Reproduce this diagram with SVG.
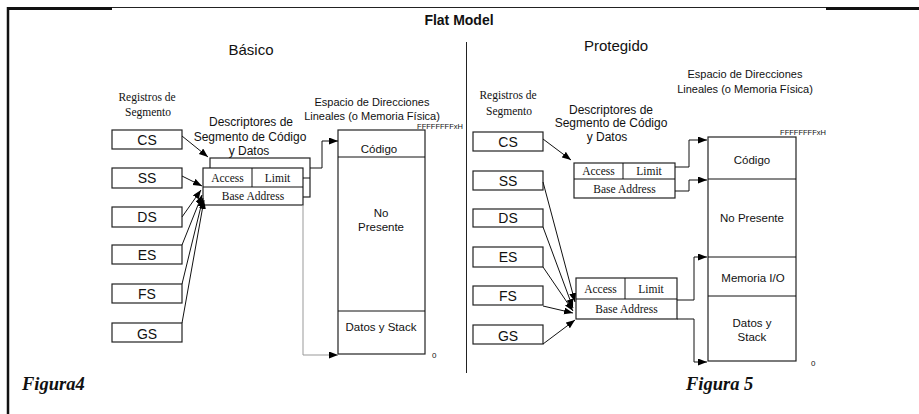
<svg xmlns="http://www.w3.org/2000/svg" width="919" height="414" viewBox="0 0 919 414">
  <style>
    .sans { font-family: "Liberation Sans", Arial, sans-serif; fill: #111; }
    .serif { font-family: "Liberation Serif", "Times New Roman", serif; fill: #111; }
    .box { fill: #fff; stroke: #222; stroke-width: 1.2; }
    .line { fill: none; stroke: #111; stroke-width: 1; }
    .gray { fill: none; stroke: #999; stroke-width: 1; }
    .reg { font-size: 14px; text-anchor: middle; }
    .cell { font-size: 11.5px; text-anchor: middle; }
    .lbl { font-size: 12px; text-anchor: middle; }
    .mem { font-size: 11.5px; text-anchor: middle; }
    .space { font-size: 11px; text-anchor: middle; }
    .regtitle { font-size: 11.5px; text-anchor: middle; }
    .addr { font-size: 7.5px; text-anchor: middle; }
    .fig { font-size: 18.5px; font-weight: bold; font-style: italic; }
  </style>
  <defs>
    <marker id="arrow" markerUnits="userSpaceOnUse" markerWidth="10" markerHeight="8" refX="9" refY="3.5" orient="auto">
      <path d="M0,0 L9,3.5 L0,7 z" fill="#000"/>
    </marker>
  </defs>

  <!-- frame -->
  <g id="frame">
    <line x1="8" y1="7.5" x2="919" y2="7.5" stroke="#222" stroke-width="1"/>
    <line x1="7" y1="8.5" x2="112" y2="8.5" stroke="#111" stroke-width="3"/>
    <line x1="826" y1="8.5" x2="919" y2="8.5" stroke="#111" stroke-width="3"/>
    <line x1="8" y1="7" x2="8" y2="414" stroke="#111" stroke-width="2.5"/>
    <line x1="466.5" y1="42" x2="466.5" y2="373" stroke="#222" stroke-width="1"/>
  </g>

  <!-- headings -->
  <g id="headings">
    <text class="sans" x="459" y="25" font-size="14" font-weight="bold" text-anchor="middle">Flat Model</text>
    <text class="sans" x="251" y="55" font-size="15" text-anchor="middle">Básico</text>
    <text class="sans" x="616" y="51" font-size="15" text-anchor="middle">Protegido</text>
    <text class="serif fig" x="22" y="390">Figura4</text>
    <text class="serif fig" x="686" y="390">Figura 5</text>
  </g>

  <!-- ===== Basic flat model ===== -->
  <g id="basic-labels">
    <text class="serif regtitle" x="147" y="101">Registros de</text>
    <text class="serif regtitle" x="148" y="116">Segmento</text>
    <text class="sans lbl" x="251" y="126">Descriptores de</text>
    <text class="sans lbl" x="250" y="141">Segmento de Código</text>
    <text class="sans lbl" x="249" y="155">y  Datos</text>
    <text class="sans space" x="372" y="106">Espacio de Direcciones</text>
    <text class="sans space" x="372" y="120">Lineales (o Memoria Física)</text>
  </g>

  <g id="basic-cs"><rect class="box" x="112" y="130" width="70" height="19"/><text class="sans reg" x="147" y="145">CS</text></g>
  <g id="basic-ss"><rect class="box" x="112" y="168" width="70" height="20"/><text class="sans reg" x="147" y="183">SS</text></g>
  <g id="basic-ds"><rect class="box" x="112" y="207" width="70" height="20"/><text class="sans reg" x="147" y="222">DS</text></g>
  <g id="basic-es"><rect class="box" x="112" y="245" width="70" height="19"/><text class="sans reg" x="147" y="260">ES</text></g>
  <g id="basic-fs"><rect class="box" x="112" y="284" width="70" height="19"/><text class="sans reg" x="147" y="299">FS</text></g>
  <g id="basic-gs"><rect class="box" x="112" y="323" width="70" height="19"/><text class="sans reg" x="147" y="339" font-size="15">GS</text></g>

  <g id="basic-descriptor">
    <rect class="box" x="210" y="158" width="100" height="39"/>
    <rect class="box" x="203" y="168" width="100" height="37"/>
    <line class="line" x1="203" y1="187" x2="303" y2="187"/>
    <line class="line" x1="252" y1="168" x2="252" y2="187"/>
    <line class="line" x1="303" y1="178" x2="310" y2="178"/>
    <text class="serif cell" x="227.5" y="182">Access</text>
    <text class="serif cell" x="277.5" y="182">Limit</text>
    <text class="serif cell" x="253" y="200">Base Address</text>
  </g>

  <g id="basic-memory">
    <rect class="box" x="338" y="130" width="87" height="224"/>
    <line class="line" x1="338" y1="157" x2="425" y2="157"/>
    <line class="line" x1="338" y1="311" x2="425" y2="311"/>
    <text class="sans addr" x="440" y="128.5">FFFFFFFFxH</text>
    <text class="sans" x="432" y="358" font-size="8">0</text>
    <text class="sans mem" x="379" y="153">Código</text>
    <text class="sans mem" x="381" y="217">No</text>
    <text class="sans mem" x="381" y="231">Presente</text>
    <text class="sans mem" x="381" y="331">Datos y Stack</text>
  </g>

  <!-- ===== Protected flat model ===== -->
  <g id="prot-labels">
    <text class="serif regtitle" x="508" y="99">Registros de</text>
    <text class="serif regtitle" x="509" y="115">Segmento</text>
    <text class="sans lbl" x="611" y="114">Descriptores de</text>
    <text class="sans lbl" x="611" y="127">Segmento de Código</text>
    <text class="sans lbl" x="607" y="141">y  Datos</text>
    <text class="sans space" x="745" y="78">Espacio de Direcciones</text>
    <text class="sans space" x="745" y="93">Lineales (o Memoria Física)</text>
  </g>

  <g id="prot-cs"><rect class="box" x="473" y="132" width="70" height="19"/><text class="sans reg" x="508" y="147">CS</text></g>
  <g id="prot-ss"><rect class="box" x="473" y="171" width="70" height="19"/><text class="sans reg" x="508" y="186">SS</text></g>
  <g id="prot-ds"><rect class="box" x="473" y="209" width="70" height="18"/><text class="sans reg" x="508" y="223">DS</text></g>
  <g id="prot-es"><rect class="box" x="473" y="247" width="70" height="20"/><text class="sans reg" x="508" y="262">ES</text></g>
  <g id="prot-fs"><rect class="box" x="473" y="286" width="70" height="19"/><text class="sans reg" x="508" y="301">FS</text></g>
  <g id="prot-gs"><rect class="box" x="473" y="325" width="70" height="19"/><text class="sans reg" x="508" y="341" font-size="15">GS</text></g>

  <g id="prot-descriptor-code">
    <rect class="box" x="574" y="163" width="101" height="35"/>
    <line class="line" x1="574" y1="179" x2="675" y2="179"/>
    <line class="line" x1="623" y1="163" x2="623" y2="179"/>
    <text class="serif cell" x="598.5" y="175">Access</text>
    <text class="serif cell" x="649" y="175">Limit</text>
    <text class="serif cell" x="624.5" y="193">Base Address</text>
  </g>

  <g id="prot-descriptor-data">
    <rect class="box" x="576" y="278" width="101" height="41"/>
    <line class="line" x1="576" y1="299" x2="677" y2="299"/>
    <line class="line" x1="625" y1="278" x2="625" y2="299"/>
    <text class="serif cell" x="600.5" y="293">Access</text>
    <text class="serif cell" x="651" y="293">Limit</text>
    <text class="serif cell" x="626.5" y="313">Base Address</text>
  </g>

  <g id="prot-memory">
    <rect class="box" x="708" y="137" width="88" height="224"/>
    <line class="line" x1="708" y1="179" x2="796" y2="179"/>
    <line class="line" x1="708" y1="257" x2="796" y2="257"/>
    <line class="line" x1="708" y1="296" x2="796" y2="296"/>
    <text class="sans addr" x="803" y="134.5">FFFFFFFFxH</text>
    <text class="sans" x="811" y="366" font-size="8">0</text>
    <text class="sans mem" x="752" y="164">Código</text>
    <text class="sans mem" x="752" y="222">No Presente</text>
    <text class="sans mem" x="753" y="282">Memoria  I/O</text>
    <text class="sans mem" x="752" y="327">Datos y</text>
    <text class="sans mem" x="752" y="341">Stack</text>
  </g>

  <!-- connectors -->
  <g id="connectors">
    <!-- basic: registers to descriptor -->
    <line class="line" x1="182" y1="136" x2="208" y2="157" marker-end="url(#arrow)"/>
    <line class="line" x1="182" y1="176" x2="202" y2="186" marker-end="url(#arrow)"/>
    <line class="line" x1="182" y1="217" x2="201" y2="190" marker-end="url(#arrow)"/>
    <line class="line" x1="182" y1="245" x2="202" y2="195" marker-end="url(#arrow)"/>
    <line class="line" x1="182" y1="284" x2="203" y2="198" marker-end="url(#arrow)"/>
    <line class="line" x1="182" y1="323" x2="204" y2="200" marker-end="url(#arrow)"/>
    <!-- basic: descriptor to memory -->
    <polyline class="line" points="310,168 322,168 322,141 338,141" marker-end="url(#arrow)"/>
    <polyline class="gray" points="303,205 303,355 338,355" marker-end="url(#arrow)"/>

    <!-- protected: registers to descriptors -->
    <line class="line" x1="543" y1="139" x2="571" y2="160" marker-end="url(#arrow)"/>
    <line class="line" x1="543" y1="182" x2="575" y2="302" marker-end="url(#arrow)"/>
    <line class="line" x1="543" y1="227" x2="573" y2="308" marker-end="url(#arrow)"/>
    <line class="line" x1="543" y1="267" x2="573" y2="311" marker-end="url(#arrow)"/>
    <line class="line" x1="543" y1="306" x2="573" y2="313" marker-end="url(#arrow)"/>
    <line class="line" x1="543" y1="344" x2="575" y2="320" marker-end="url(#arrow)"/>
    <!-- protected: descriptors to memory -->
    <polyline class="line" points="675,167 689,167 689,140 707,140" marker-end="url(#arrow)"/>
    <polyline class="line" points="675,191 689,191 689,180 707,180" marker-end="url(#arrow)"/>
    <polyline class="line" points="677,300 694,300 694,257 707,257" marker-end="url(#arrow)"/>
    <polyline class="line" points="677,319 694,319 694,362 707,362" marker-end="url(#arrow)"/>
  </g>
</svg>
